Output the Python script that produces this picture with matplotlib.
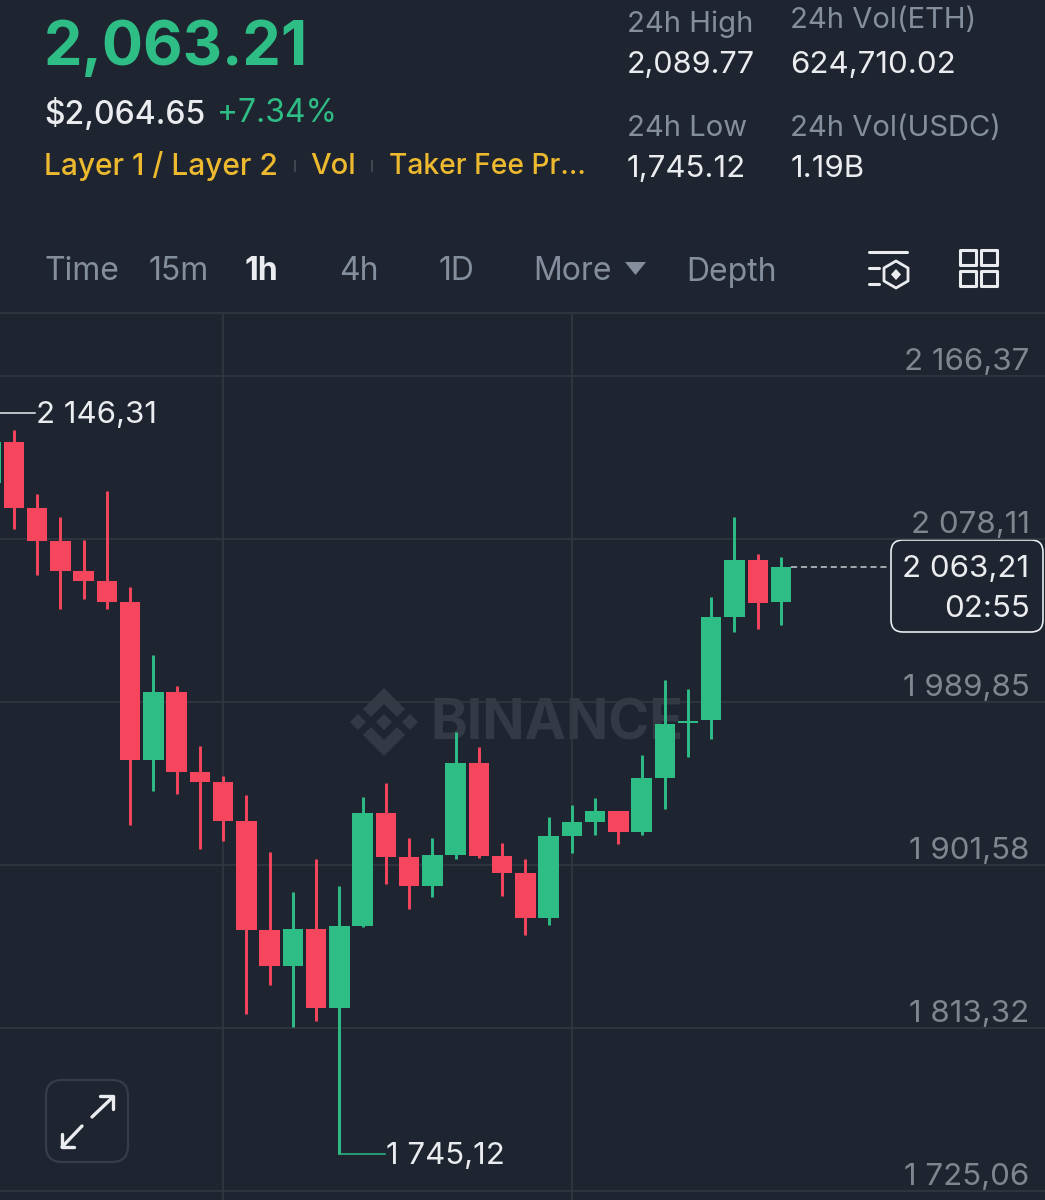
import numpy as np
import matplotlib
matplotlib.use('Agg')
import matplotlib.pyplot as plt
from matplotlib.patches import FancyBboxPatch, Polygon, Rectangle

plt.rcParams['font.family'] = ['Inter', 'DejaVu Sans']
plt.rcParams['text.kerning_factor'] = 6

# hourly candles
opens = [2108.43, 2130.63, 2094.89, 2077.02, 2060.78, 2055.36, 2043.99, 1958.43, 1995.26, 1951.94,
         1946.52, 1925.40, 1866.38, 1846.88, 1866.92, 1824.14, 1868.54, 1929.73, 1905.91, 1890.20,
         1906.99, 1956.81, 1906.45, 1897.24, 1872.88, 1917.28, 1924.86, 1930.82, 1919.45, 1948.69,
         1978.60, 1980.09, 2035.87, 2066.73, 2043.99]
highs = [2146.31, 2137.13, 2102.47, 2090.02, 2077.56, 2104.10, 2052.13, 2015.30, 1998.51, 1966.01,
         1949.77, 1939.48, 1908.62, 1886.96, 1904.83, 1890.20, 1938.40, 1945.98, 1916.20, 1916.20,
         1973.60, 1965.47, 1913.49, 1905.00, 1927.57, 1934.07, 1937.86, 1930.82, 1961.14, 2001.75,
         1996.88, 2046.70, 2090.02, 2069.98, 2068.36]
lows = [2100.00, 2083.52, 2058.61, 2040.20, 2045.62, 2040.20, 1923.24, 1941.65, 1940.02, 1910.24,
        1914.57, 1820.89, 1836.60, 1813.85, 1817.10, 1745.12, 1868.00, 1891.29, 1877.75, 1884.25,
        1904.83, 1905.37, 1884.79, 1863.67, 1869.09, 1908.07, 1917.82, 1912.95, 1917.82, 1931.90,
        1960.06, 1969.81, 2027.75, 2029.37, 2031.54]
closes = [2130.63, 2094.89, 2077.02, 2060.78, 2055.36, 2043.99, 1958.43, 1995.26, 1951.94, 1946.52,
          1925.40, 1866.38, 1846.88, 1866.92, 1824.14, 1868.54, 1929.73, 1905.91, 1890.20, 1906.99,
          1956.81, 1906.45, 1897.24, 1872.88, 1917.28, 1924.86, 1930.82, 1919.45, 1948.69, 1977.93,
          1979.40, 2035.87, 2066.73, 2043.45, 2063.21]

price_ticks = [2166.37, 2078.11, 1989.85, 1901.58, 1813.32, 1725.06]
price_labels = ['2 166,37', '2 078,11', '1 989,85', '1 901,58', '1 813,32', '1 725,06']
time_grid = [10, 25]

tabs = ['Time', '15m', '1h', '4h', '1D', 'More', 'Depth']
tab_pos = [44, 149, 245, 339, 439, 533, 686]

bg = '#1f2530'
grid = '#333943'
green = '#2ebd85'
red = '#f6465d'
white = '#eaecef'
grey = '#848e9c'
axis_grey = '#80868f'
yellow = '#ecb92f'
mark = '#343a45'

fig = plt.figure(figsize=(10.45, 12), dpi=100, facecolor=bg)

# pixel coordinate layer for the app chrome and the watermark
ui = fig.add_axes([0, 0, 1, 1], zorder=0)
ui.set_xlim(0, 1045)
ui.set_ylim(1200, 0)
ui.axis('off')

# chart layer, from the header rule down
ax = fig.add_axes([0, 0, 1, 886 / 1200], zorder=1)
ax.patch.set_alpha(0)
ax.set_ylim(1720.17, 2199.94)
ax.set_xlim(0.3976, 45.36)
ax.axis('off')

for p in price_ticks:
    ax.axhline(p, color=grid, lw=1.1, zorder=1)
for t in time_grid:
    ax.axvline(t, color=grid, lw=1.1, zorder=1)

x = np.arange(len(opens))
o = np.array(opens)
c = np.array(closes)
colors = [green if b >= a else red for a, b in zip(opens, closes)]
ax.vlines(x, lows, highs, colors=colors, lw=2.1, zorder=3)
ax.bar(x, np.abs(c - o), bottom=np.minimum(o, c), width=0.88, color=colors, linewidth=0, zorder=4)

for p, label in zip(price_ticks, price_labels):
    ax.annotate(label, xy=(1, p), xycoords=('axes fraction', 'data'), xytext=(-11, 9.8),
                textcoords='offset points', ha='right', va='center', fontsize=22.5, color=axis_grey)

# high / low markers
ax.plot([x[0], x[0] + 1.9], [highs[0], highs[0]], color=white, lw=1.1, zorder=5)
ax.text(x[0] + 1.95, highs[0] - 1.0, '2 146,31', color=white, fontsize=22.5, va='center', ha='left', zorder=5)
low_i = int(np.argmin(lows))
ax.plot([low_i, low_i + 1.96], [lows[low_i], lows[low_i]], color=green, lw=1.1, zorder=5)
ax.text(low_i + 2.0, lows[low_i] - 1.0, '1 745,12', color=white, fontsize=22.5, va='center', ha='left', zorder=5)

# last price line and tag
ax.plot([x[-1] + 0.44, x[-1] + 4.7], [closes[-1], closes[-1]], color='#c9ccd1', lw=1.1, ls=(0, (4, 2.5)), zorder=2)
ui.add_patch(FancyBboxPatch((903, 552), 128, 68, boxstyle='round,pad=12,rounding_size=12',
                            fc=bg, ec=white, lw=1.2, zorder=3))
ui.text(1029, 569, '2 063,21', color=white, fontsize=22.5, ha='right', va='center', zorder=4)
ui.text(1030, 609, '02:55', color=white, fontsize=22.5, ha='right', va='center', zorder=4)

# watermark
ui.text(430, 724, 'BINANCE', color=mark, fontsize=40, fontweight='bold', ha='left', va='center')
cx, cy = 384, 722
ui.add_patch(Polygon([(cx - 8, cy), (cx, cy - 8), (cx + 8, cy), (cx, cy + 8)], fc=mark, lw=0))
for s in (-1, 1):
    ui.add_patch(Polygon([(cx, cy + s * 34), (cx + 21, cy + s * 13), (cx + 13, cy + s * 5), (cx, cy + s * 18),
                          (cx - 13, cy + s * 5), (cx - 21, cy + s * 13)], fc=mark, lw=0))
    ui.add_patch(Polygon([(cx + s * 34, cy), (cx + s * 26, cy + 8), (cx + s * 18, cy), (cx + s * 26, cy - 8)], fc=mark, lw=0))

# header
ui.plot([0, 1045], [313, 313], color=grid, lw=1.1)
ui.text(44, 65, '2,063.21', color=green, fontsize=44, fontweight='bold', ha='left', va='baseline')
ui.text(44, 114, '$2,064.65', color=white, fontsize=23, fontweight='medium', ha='left', va='center')
ui.text(217, 114, '+7.34%', color=green, fontsize=23, ha='left', va='center')
ui.text(44, 166, 'Layer 1 / Layer 2', color=yellow, fontsize=21.5, fontweight='medium', ha='left', va='center')
ui.text(310, 166, 'Vol', color=yellow, fontsize=21, fontweight='medium', ha='left', va='center')
ui.text(389, 166, 'Taker Fee Pr...', color=yellow, fontsize=20.3, fontweight='medium', ha='left', va='center')
ui.plot([295, 295], [161, 171], color='#3f4650', lw=1.5)
ui.plot([372, 372], [161, 171], color='#3f4650', lw=1.5)

for name, px in zip(tabs, tab_pos):
    if name == '1h':
        ui.text(px, 272, name, color=white, fontsize=23, fontweight='bold', ha='left', va='center')
    else:
        ui.text(px, 272, name, color=grey, fontsize=23, ha='left', va='center')
ui.add_patch(Polygon([(625, 262), (646, 262), (635.5, 275)], fc=grey, lw=0))

ui.text(627, 24, '24h High', color=grey, fontsize=21, ha='left', va='center')
ui.text(627, 65, '2,089.77', color=white, fontsize=22, ha='left', va='center')
ui.text(627, 129, '24h Low', color=grey, fontsize=21, ha='left', va='center')
ui.text(627, 169, '1,745.12', color=white, fontsize=22.5, ha='left', va='center')
ui.text(790, 20, '24h Vol(ETH)', color=grey, fontsize=21, ha='left', va='center')
ui.text(790, 65, '624,710.02', color=white, fontsize=22.5, ha='left', va='center')
ui.text(790, 129, '24h Vol(USDC)', color=grey, fontsize=21, ha='left', va='center')
ui.text(791, 169, '1.19B', color=white, fontsize=22.5, ha='left', va='center')

# toolbar icons
ui.plot([869, 907], [252, 252], color=white, lw=2.2, solid_capstyle='round')
ui.plot([869, 879], [268, 268], color=white, lw=2.2, solid_capstyle='round')
ui.plot([869, 879], [284, 284], color=white, lw=2.2, solid_capstyle='round')
ui.add_patch(Polygon([(896, 261), (908, 268), (908, 281), (896, 288), (884, 281), (884, 268)],
                     fc='none', ec=white, lw=2.0, joinstyle='round'))
ui.add_patch(Polygon([(896, 269), (901, 274.5), (896, 280), (891, 274.5)], fc=white, lw=0))
for gx in (960, 981):
    for gy in (250, 271):
        ui.add_patch(Rectangle((gx, gy), 16, 15, fc='none', ec=white, lw=2.2, joinstyle='round'))

# expand button
ui.add_patch(FancyBboxPatch((60, 1094), 54, 54, boxstyle='round,pad=14,rounding_size=16',
                            fc='none', ec='#373d48', lw=1.6))
ui.plot([92, 113], [1117, 1097], color=white, lw=2.4, solid_capstyle='round')
ui.plot([100, 113, 113], [1096, 1096, 1109], color=white, lw=2.4, solid_capstyle='round', solid_joinstyle='round')
ui.plot([82, 62], [1126, 1147], color=white, lw=2.4, solid_capstyle='round')
ui.plot([62, 62, 74], [1134, 1147, 1147], color=white, lw=2.4, solid_capstyle='round', solid_joinstyle='round')

fig.savefig('out.png', dpi=100, facecolor=bg)
